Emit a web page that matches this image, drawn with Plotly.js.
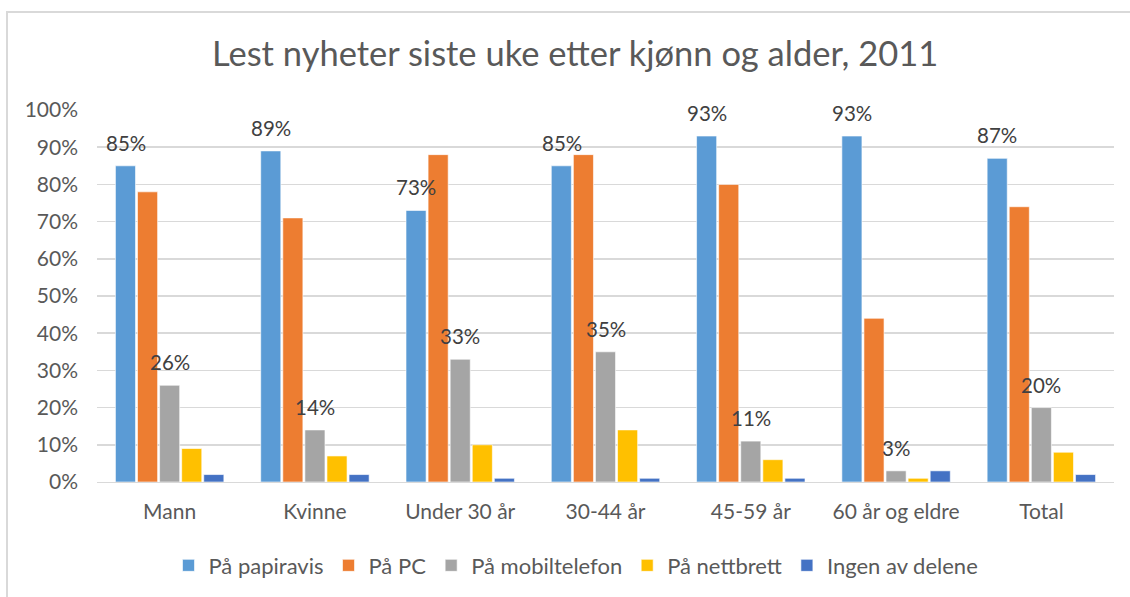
<!DOCTYPE html>
<html>
<head>
<meta charset="utf-8">
<script src="https://cdn.plot.ly/plotly-3.0.1.min.js"></script>
<style>
html,body{margin:0;padding:0;background:#fff;}
#wrap{position:relative;width:1130px;height:597px;}
#frame{position:absolute;left:6px;top:11px;width:1130px;height:600px;border-top:2px solid #D9D9D9;border-left:2px solid #D9D9D9;pointer-events:none;z-index:5;}
#chart{position:absolute;left:0;top:0;width:1130px;height:597px;}
</style>
</head>
<body>
<div id="wrap"><div id="chart"></div><div id="frame"></div></div>
<script>
const categories = ["Mann", "Kvinne", "Under 30 år", "30-44 år", "45-59 år", "60 år og eldre", "Total"];
const papiravis = [85, 89, 73, 85, 93, 93, 87];
const pc = [78, 71, 88, 88, 80, 44, 74];
const mobiltelefon = [26, 14, 33, 35, 11, 3, 20];
const nettbrett = [9, 7, 10, 14, 6, 1, 8];
const ingen = [2, 2, 1, 1, 1, 3, 2];
const yTicks = [0, 10, 20, 30, 40, 50, 60, 70, 80, 90, 100];

const font = "Lato, Open Sans, sans-serif";
const grey = "#595959";

function series(name, y, color) {
  return {
    type: "bar", name: name, x: categories, y: y,
    marker: {color: color, line: {color: "rgba(255,255,255,0.6)", width: 1}},
    hoverinfo: "skip"
  };
}

const data = [
  series("På papiravis", papiravis, "#5B9BD5"),
  series("På PC", pc, "#ED7D31"),
  series("På mobiltelefon", mobiltelefon, "#A5A5A5"),
  series("På nettbrett", nettbrett, "#FFC000"),
  series("Ingen av delene", ingen, "#4472C4")
];

// data labels for the first and third series, placed above their bars
function labels(values, xshift) {
  return values.map((v, i) => ({
    x: categories[i], y: v, xref: "x", yref: "y",
    text: v + "%", showarrow: false, yanchor: "bottom", xanchor: "center",
    xshift: xshift, yshift: 9,
    font: {family: font, size: 20.5, color: "#404040"}
  }));
}

const layout = {
  width: 1130, height: 597,
  margin: {l: 97, r: 16, t: 110, b: 114},
  paper_bgcolor: "#fff", plot_bgcolor: "#fff",
  font: {family: font, color: grey},
  title: {text: "Lest nyheter siste uke etter kjønn og alder, 2011", x: 0.509, xanchor: "center", y: 0.91, yanchor: "middle",
          font: {family: font, size: 34.5, color: grey}},
  barmode: "group", bargap: 0.24, bargroupgap: 0.09,
  xaxis: {type: "category", tickfont: {size: 21, color: grey}, showline: true, linecolor: "#D9D9D9", linewidth: 1,
          ticks: "", showgrid: false, ticklabelstandoff: 11},
  yaxis: {range: [0, 100], tickvals: yTicks, ticktext: yTicks.map(v => v + "%"),
          tickfont: {size: 21, color: grey}, gridcolor: "#D9D9D9", gridwidth: 1.5, zeroline: false,
          ticks: "", ticklabelstandoff: 18, fixedrange: true},
  showlegend: true,
  legend: {orientation: "h", x: 0.471, xanchor: "center", y: -0.165, yanchor: "top",
           font: {size: 22, color: grey}, itemwidth: 30, tracegroupgap: 0},
  annotations: labels(papiravis, -44).concat(labels(mobiltelefon, 0))
};

Plotly.newPlot("chart", data, layout, {displayModeBar: false, staticPlot: true});
</script>
</body>
</html>
